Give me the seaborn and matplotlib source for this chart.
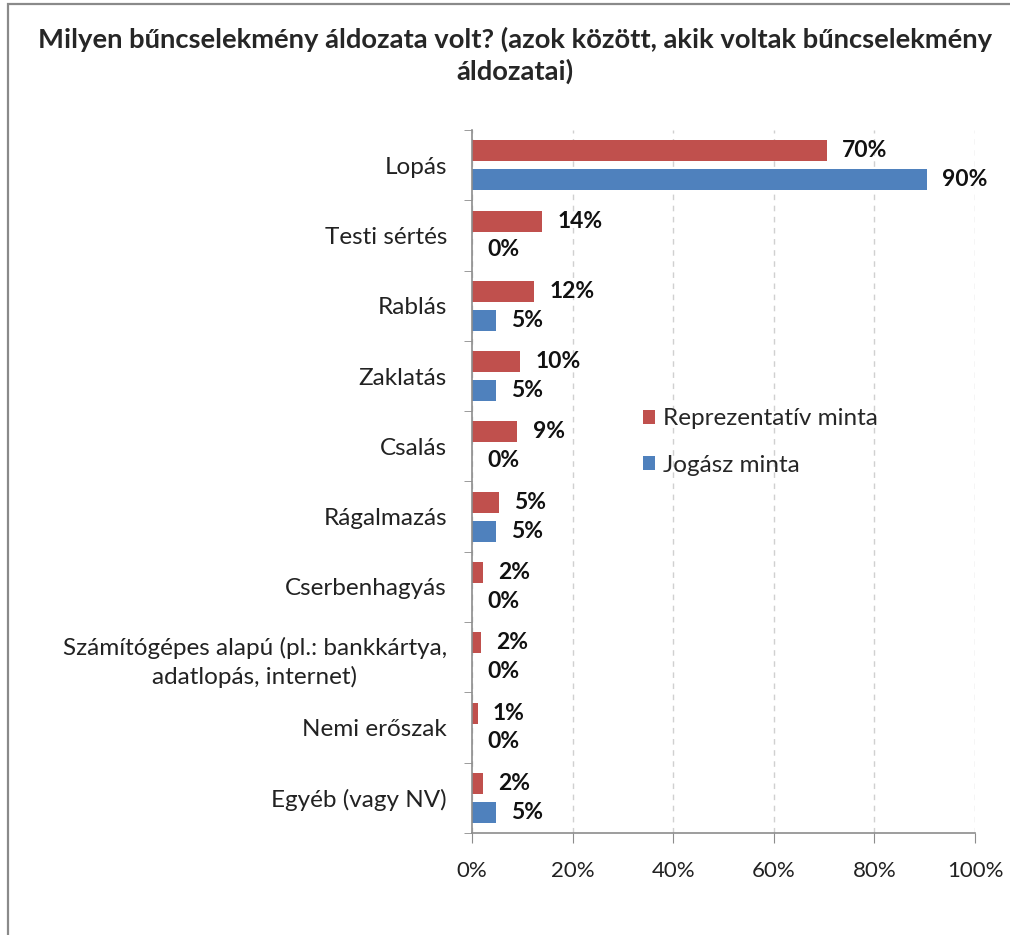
import numpy as np
import pandas as pd
import matplotlib
matplotlib.use("Agg")
import matplotlib.pyplot as plt
import seaborn as sns
from matplotlib.patches import Rectangle
from matplotlib.ticker import FixedLocator

categories = ["Lopás", "Testi sértés", "Rablás", "Zaklatás", "Csalás", "Rágalmazás",
              "Cserbenhagyás", "Számítógépes alapú (pl.: bankkártya,\nadatlopás, internet)",
              "Nemi erőszak", "Egyéb (vagy NV)"]
series = ["Reprezentatív minta", "Jogász minta"]
repr_vals = [70.5, 13.9, 12.3, 9.6, 9.0, 5.3, 2.2, 1.7, 1.1, 2.2]
jog_vals = [90.4, 0, 4.7, 4.7, 0, 4.7, 0, 0, 0, 4.7]
repr_labels = ["70%", "14%", "12%", "10%", "9%", "5%", "2%", "2%", "1%", "2%"]
jog_labels = ["90%", "0%", "5%", "5%", "0%", "5%", "0%", "0%", "0%", "5%"]
colors = ["#C0504D", "#4F81BD"]

df = pd.DataFrame({
    "kategoria": categories * 2,
    "minta": [series[0]] * len(categories) + [series[1]] * len(categories),
    "ertek": repr_vals + jog_vals,
})

sns.set_style("white")
plt.rcParams["font.family"] = ["Lato", "DejaVu Sans"]

fig = plt.figure(figsize=(10.1, 9.35), dpi=100)
ax = fig.add_axes([472 / 1010, 102 / 935, 503 / 1010, 703 / 935])

sns.barplot(data=df, x="ertek", y="kategoria", hue="minta", hue_order=series,
            palette=colors, orient="h", width=0.82, gap=0.27, ax=ax,
            saturation=1, edgecolor="none")

for cont, labs in zip(ax.containers, [repr_labels, jog_labels]):
    ax.bar_label(cont, labels=labs, padding=11, fontsize=16.5, fontweight="bold", color="#111111")

ax.set_xlim(0, 100)
ax.set_ylim(len(categories) - 0.5, -0.5)
ax.set_xticks([0, 20, 40, 60, 80, 100])
ax.set_xticklabels(["0%", "20%", "40%", "60%", "80%", "100%"], fontsize=16, color="#222222")
ax.set_xlabel("")
ax.set_ylabel("")
ax.tick_params(axis="x", length=7, color="#8c8c8c", pad=13, direction="out", bottom=True)
ax.tick_params(axis="y", which="major", length=0, pad=18, labelsize=17.5, labelcolor="#222222")
ax.yaxis.set_minor_locator(FixedLocator(np.arange(-0.5, len(categories), 1.0)))
ax.tick_params(axis="y", which="minor", length=6, color="#8c8c8c", left=True)
for t in ax.get_yticklabels():
    t.set_horizontalalignment("right")
    t.set_multialignment("center")
    t.set_linespacing(1.35)

ax.xaxis.grid(True, linestyle=(0, (4, 4)), color="#d0d0d0", linewidth=1)
ax.set_axisbelow(True)
for s in ["top", "right"]:
    ax.spines[s].set_visible(False)
for s in ["left", "bottom"]:
    ax.spines[s].set_color("#8c8c8c")
    ax.spines[s].set_linewidth(1.2)

ax.legend(loc="center left", bbox_to_anchor=(643 / 1010, 493 / 935),
          bbox_transform=fig.transFigure, frameon=False, fontsize=17.5,
          borderaxespad=0, borderpad=0,
          handlelength=0.5, handleheight=0.5, handletextpad=0.32, labelspacing=1.05)

fig.text(515 / 1010, 1 - 55 / 935,
         "Milyen bűncselekmény áldozata volt? (azok között, akik voltak bűncselekmény\náldozatai)",
         ha="center", va="center", fontsize=19.7, fontweight="bold", linespacing=1.3)

fig.patches.append(Rectangle((8 / 1010, -0.1), 1.2, 1 - 4 / 935 + 0.1, transform=fig.transFigure,
                             fill=False, edgecolor="#8a8a8a", linewidth=1.6))

fig.savefig("out.png", dpi=100)
